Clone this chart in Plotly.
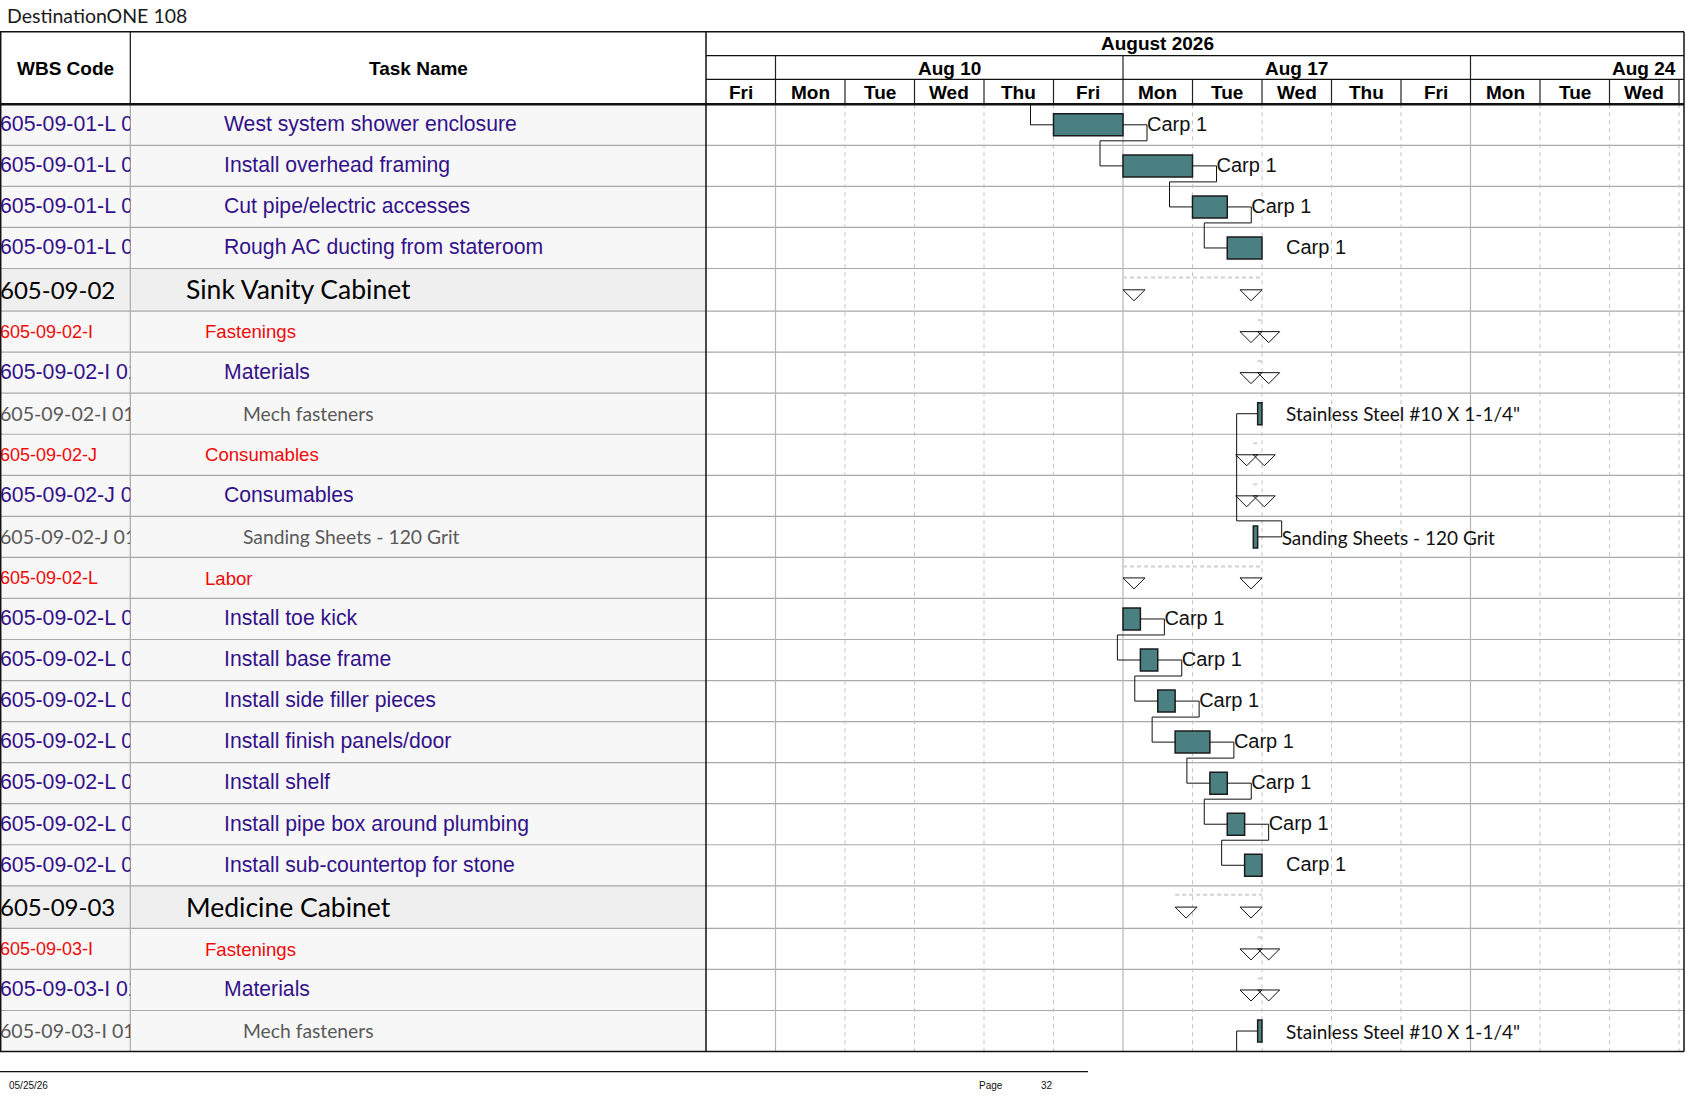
import numpy as np
import pandas as pd
import plotly.graph_objects as go

W, H = 1687, 1097

# ---------------------------------------------------------------- data
# timescale: working days counted from Fri 7 Aug 2026 (work day 08:00-16:00)
ORIGIN = "2026-08-07"
day_labels = ["Fri", "Mon", "Tue", "Wed", "Thu", "Fri", "Mon",
              "Tue", "Wed", "Thu", "Fri", "Mon", "Tue", "Wed"]
week_labels = ["Aug 10", "Aug 17", "Aug 24"]
week_first_day = [1, 6, 11]
month_label = "August 2026"

wbs_codes = [
    "605-09-01-L 05", "605-09-01-L 06", "605-09-01-L 07", "605-09-01-L 08",
    "605-09-02",
    "605-09-02-I", "605-09-02-I 01", "605-09-02-I 01-01",
    "605-09-02-J", "605-09-02-J 01", "605-09-02-J 01-01",
    "605-09-02-L", "605-09-02-L 01", "605-09-02-L 02", "605-09-02-L 03",
    "605-09-02-L 04", "605-09-02-L 05", "605-09-02-L 06", "605-09-02-L 07",
    "605-09-03",
    "605-09-03-I", "605-09-03-I 01", "605-09-03-I 01-01",
]
task_names = [
    "West system shower enclosure", "Install overhead framing",
    "Cut pipe/electric accesses", "Rough AC ducting from stateroom",
    "Sink Vanity Cabinet",
    "Fastenings", "Materials", "Mech fasteners",
    "Consumables", "Consumables", "Sanding Sheets - 120 Grit",
    "Labor", "Install toe kick", "Install base frame", "Install side filler pieces",
    "Install finish panels/door", "Install shelf", "Install pipe box around plumbing",
    "Install sub-countertop for stone",
    "Medicine Cabinet",
    "Fastenings", "Materials", "Mech fasteners",
]
row_levels = [
    "task", "task", "task", "task",
    "group",
    "cat", "task", "item",
    "cat", "task", "item",
    "cat", "task", "task", "task", "task", "task", "task", "task",
    "group",
    "cat", "task", "item",
]
gantt_kind = [
    "bar", "bar", "bar", "bar",
    "summary",
    "summary", "summary", "bar",
    "summary", "summary", "bar",
    "summary", "bar", "bar", "bar", "bar", "bar", "bar", "bar",
    "summary",
    "summary", "summary", "bar",
]
start_times = [
    "2026-08-14 08:00", "2026-08-17 08:00", "2026-08-18 08:00", "2026-08-18 12:00",
    "2026-08-17 08:00",
    "2026-08-18 15:30", "2026-08-18 15:30", "2026-08-18 15:30",
    "2026-08-18 15:00", "2026-08-18 15:00", "2026-08-18 15:00",
    "2026-08-17 08:00", "2026-08-17 08:00", "2026-08-17 10:00", "2026-08-17 12:00",
    "2026-08-17 14:00", "2026-08-18 10:00", "2026-08-18 12:00", "2026-08-18 14:00",
    "2026-08-17 14:00",
    "2026-08-18 15:30", "2026-08-18 15:30", "2026-08-18 15:30",
]
finish_times = [
    "2026-08-14 16:00", "2026-08-17 16:00", "2026-08-18 12:00", "2026-08-18 16:00",
    "2026-08-18 16:00",
    "2026-08-18 16:00", "2026-08-18 16:00", "2026-08-18 16:00",
    "2026-08-18 15:30", "2026-08-18 15:30", "2026-08-18 15:30",
    "2026-08-18 16:00", "2026-08-17 10:00", "2026-08-17 12:00", "2026-08-17 14:00",
    "2026-08-18 10:00", "2026-08-18 12:00", "2026-08-18 14:00", "2026-08-18 16:00",
    "2026-08-18 16:00",
    "2026-08-18 16:00", "2026-08-18 16:00", "2026-08-18 16:00",
]
resource_labels = [
    "Carp 1", "Carp 1", "Carp 1", "Carp 1",
    "",
    "", "", 'Stainless Steel #10 X 1-1/4"',
    "", "", "Sanding Sheets - 120 Grit",
    "", "Carp 1", "Carp 1", "Carp 1", "Carp 1", "Carp 1", "Carp 1", "Carp 1",
    "",
    "", "", 'Stainless Steel #10 X 1-1/4"',
]
# finish-to-start links (predecessor row, successor row)
links = [(0, 1), (1, 2), (2, 3), (10, 7),
         (12, 13), (13, 14), (14, 15), (15, 16), (16, 17), (17, 18)]
links_from_above = [0]
links_from_below = [22]

# ---------------------------------------------------------------- layout constants
DAY_PX = 69.5
GANTT_X0, GANTT_X1 = 706, 1684
WBS_X1 = 130.3
TOP_Y, MONTH_Y1, WEEK_Y1, HEADER_BOTTOM = 31.7, 55.7, 79.3, 104.3
ROW_H, GROUP_H = 41.05, 42.6
BAR_H = 22
TRI_W, TRI_H = 22, 11

TEAL = "#4a8081"
ARIAL = "Liberation Sans"
CALIBRI = "Lato"

# dy: small baseline nudge so the text sits like the reference
LEVEL_STYLE = {
    "group": dict(font=CALIBRI, size=26.5, wsize=24, color="#000000", indent=186,
                  bg="#efefef", dy=3),
    "cat": dict(font=ARIAL, size=18.6, wsize=18, color="#f00a0a", indent=205,
                bg="#f7f7f7", dy=2),
    "task": dict(font=ARIAL, size=21.2, wsize=21.3, color="#33118a", indent=224,
                 bg="#f7f7f7", dy=1),
    "item": dict(font=CALIBRI, size=19.3, wsize=19.6, color="#595959", indent=243,
                 bg="#f7f7f7", dy=2.5),
}


def px(v):
    return v / DAY_PX


def to_day(ts):
    t = pd.Timestamp(ts)
    return int(np.busday_count(ORIGIN, t.date().isoformat())) + (t.hour + t.minute / 60 - 8) / 8


start = np.array([to_day(t) for t in start_times])
finish = np.array([to_day(t) for t in finish_times])
heights = np.array([GROUP_H if lv == "group" else ROW_H for lv in row_levels])
tops = HEADER_BOTTOM + np.concatenate([[0], np.cumsum(heights)[:-1]])
bottoms = tops + heights
centers = (tops + bottoms) / 2
TABLE_BOTTOM = bottoms[-1]
X_MAX = px(GANTT_X1 - GANTT_X0)

fig = go.Figure()

# ---------------------------------------------------------------- gantt marks
bar_rows = [i for i, k in enumerate(gantt_kind) if k == "bar"]
fig.add_trace(go.Bar(
    orientation="h", y=centers[bar_rows], base=start[bar_rows],
    x=finish[bar_rows] - start[bar_rows], width=BAR_H,
    marker=dict(color=TEAL, line=dict(color="#1b1b1b", width=1.5)),
    xaxis="x", yaxis="y", hoverinfo="skip", showlegend=False,
))

sum_rows = [i for i, k in enumerate(gantt_kind) if k == "summary"]
dx, dy, tx, ty = [], [], [], []
for r in sum_rows:
    y = tops[r] + 9
    dx += [start[r], finish[r], None]
    dy += [y, y, None]
    c = centers[r]
    for x0 in (start[r], finish[r] - px(TRI_W)):
        tx += [x0, x0 + px(TRI_W), x0 + px(TRI_W / 2), x0, None]
        ty += [c, c, c + TRI_H, c, None]
fig.add_trace(go.Scatter(x=dx, y=dy, mode="lines", xaxis="x", yaxis="y",
                         line=dict(color="#d2d2d2", width=2, dash="4px,3px"),
                         hoverinfo="skip", showlegend=False))
fig.add_trace(go.Scatter(x=tx, y=ty, mode="lines", fill="toself", fillcolor="white",
                         xaxis="x", yaxis="y", line=dict(color="#111111", width=1),
                         hoverinfo="skip", showlegend=False))

lx, ly = [], []


def add_path(pts):
    for x, y in pts:
        lx.append(x)
        ly.append(y)
    lx.append(None)
    ly.append(None)


for p, s in links:
    out = finish[p] + px(24)
    if s > p:
        jog, back = centers[p] + 16, start[s] - px(23)
    else:
        jog, back = centers[p] - 16, start[s] - px(21)
    add_path([(finish[p], centers[p]), (out, centers[p]), (out, jog),
              (back, jog), (back, centers[s]), (start[s], centers[s])])
for r in links_from_above:
    back = start[r] - px(23)
    add_path([(back, HEADER_BOTTOM), (back, centers[r]), (start[r], centers[r])])
for r in links_from_below:
    back = start[r] - px(21)
    add_path([(back, TABLE_BOTTOM), (back, centers[r]), (start[r], centers[r])])
fig.add_trace(go.Scatter(x=lx, y=ly, mode="lines", xaxis="x", yaxis="y",
                         line=dict(color="#111111", width=1),
                         hoverinfo="skip", showlegend=False))

for fam, size, nudge, pick in ((ARIAL, 20, 1, lambda t: t.startswith("Carp")),
                               (CALIBRI, 19, 3, lambda t: t and not t.startswith("Carp"))):
    rows = [i for i in bar_rows if pick(resource_labels[i])]
    fig.add_trace(go.Scatter(
        x=finish[rows] + px(24), y=centers[rows] + nudge,
        text=[resource_labels[i] for i in rows],
        mode="text", textposition="middle right", xaxis="x", yaxis="y",
        textfont=dict(family=fam, size=size, color="#111111"),
        hoverinfo="skip", showlegend=False, cliponaxis=False,
    ))

# ---------------------------------------------------------------- table text
for lv, st in LEVEL_STYLE.items():
    rows = [i for i, l in enumerate(row_levels) if l == lv]
    fig.add_trace(go.Scatter(
        x=[0] * len(rows), y=centers[rows] + st["dy"], text=[wbs_codes[i] for i in rows],
        mode="text", textposition="middle right", xaxis="x3", yaxis="y",
        textfont=dict(family=st["font"], size=st["wsize"], color=st["color"]),
        hoverinfo="skip", showlegend=False, cliponaxis=True,
    ))
    fig.add_trace(go.Scatter(
        x=[st["indent"]] * len(rows), y=centers[rows] + st["dy"],
        text=[task_names[i] for i in rows],
        mode="text", textposition="middle right", xaxis="x2", yaxis="y",
        textfont=dict(family=st["font"], size=st["size"], color=st["color"]),
        hoverinfo="skip", showlegend=False, cliponaxis=False,
    ))

# ---------------------------------------------------------------- shapes
shapes = []


def P(x):
    return x / W


def line(x0, y0, x1, y1, color, width=1, dash="solid", xref="paper", layer="below"):
    if xref == "paper":
        x0, x1 = P(x0), P(x1)
    shapes.append(dict(type="line", xref=xref, yref="y", x0=x0, x1=x1, y0=y0, y1=y1,
                       line=dict(color=color, width=width, dash=dash), layer=layer))


for i, lv in enumerate(row_levels):
    shapes.append(dict(type="rect", xref="paper", yref="y", x0=0, x1=P(GANTT_X0),
                       y0=tops[i], y1=bottoms[i], fillcolor=LEVEL_STYLE[lv]["bg"],
                       line=dict(width=0), layer="below"))
for b in bottoms[:-1]:
    line(0, b, GANTT_X1, b, "#a9a9a9", 1.2)
line(WBS_X1, HEADER_BOTTOM, WBS_X1, TABLE_BOTTOM, "#a9a9a9", 1.2)

mondays = set(week_first_day)
for d in range(1, int(X_MAX) + 1):
    if d in mondays:
        line(d, HEADER_BOTTOM, d, TABLE_BOTTOM, "#b5b5b5", 1.2, xref="x")
    else:
        line(d, HEADER_BOTTOM, d, TABLE_BOTTOM, "#c2c2c2", 1, dash="4px,4px", xref="x")
    line(d, WEEK_Y1, d, HEADER_BOTTOM, "#222222", 1.2, xref="x", layer="above")
for d in week_first_day:
    line(d, MONTH_Y1, d, WEEK_Y1, "#222222", 1.2, xref="x", layer="above")

K = "#111111"
line(0, TOP_Y, GANTT_X1, TOP_Y, K, 1.5, layer="above")
line(0, TABLE_BOTTOM, GANTT_X1, TABLE_BOTTOM, K, 1.5, layer="above")
line(0, HEADER_BOTTOM, GANTT_X1, HEADER_BOTTOM, K, 2.5, layer="above")
line(GANTT_X0, MONTH_Y1, GANTT_X1, MONTH_Y1, K, 1.2, layer="above")
line(GANTT_X0, WEEK_Y1, GANTT_X1, WEEK_Y1, K, 1.2, layer="above")
line(0.7, TOP_Y, 0.7, TABLE_BOTTOM, K, 1.5, layer="above")
line(WBS_X1, TOP_Y, WBS_X1, HEADER_BOTTOM, K, 1.2, layer="above")
line(GANTT_X0, TOP_Y, GANTT_X0, TABLE_BOTTOM, K, 1.5, layer="above")
line(GANTT_X1, TOP_Y, GANTT_X1, TABLE_BOTTOM, K, 1.5, layer="above")
line(0, 1071.7, 1088, 1071.7, K, 1.2, layer="above")

# ---------------------------------------------------------------- annotations
ann = []
hdr_font = dict(family=ARIAL, size=19, color="#000000")
ann.append(dict(x=P(WBS_X1 / 2), y=(TOP_Y + HEADER_BOTTOM) / 2, xref="paper", yref="y",
                xanchor="center", text="<b>WBS Code</b>", font=hdr_font))
ann.append(dict(x=P((WBS_X1 + GANTT_X0) / 2), y=(TOP_Y + HEADER_BOTTOM) / 2, xref="paper",
                yref="y", xanchor="center", text="<b>Task Name</b>", font=hdr_font))
ann.append(dict(x=6.5, y=(TOP_Y + MONTH_Y1) / 2, xref="x", yref="y", xanchor="center",
                text=f"<b>{month_label}</b>", font=hdr_font))
for lab, d0 in zip(week_labels, week_first_day):
    d1 = d0 + 5
    if d1 <= X_MAX:
        ann.append(dict(x=(d0 + d1) / 2, y=(MONTH_Y1 + WEEK_Y1) / 2 + 1, xref="x", yref="y",
                        xanchor="center", text=f"<b>{lab}</b>", font=hdr_font))
    else:
        ann.append(dict(x=X_MAX - px(6), y=(MONTH_Y1 + WEEK_Y1) / 2 + 1, xref="x", yref="y",
                        xanchor="right", text=f"<b>{lab}</b>", font=hdr_font))
for i, lab in enumerate(day_labels):
    ann.append(dict(x=i + 0.5, y=(WEEK_Y1 + HEADER_BOTTOM) / 2 + 1, xref="x", yref="y",
                    xanchor="center", text=f"<b>{lab}</b>", font=hdr_font))

ann.append(dict(x=P(5), y=15.5, xref="paper", yref="y", xanchor="left",
                text="DestinationONE 108", font=dict(family=CALIBRI, size=19.5, color="#1a1a1a")))
foot = dict(family=ARIAL, size=10, color="#111111")
ann.append(dict(x=P(7), y=1085, xref="paper", yref="y", xanchor="left", text="05/25/26", font=foot))
ann.append(dict(x=P(977), y=1085, xref="paper", yref="y", xanchor="left", text="Page", font=foot))
ann.append(dict(x=P(1039), y=1085, xref="paper", yref="y", xanchor="left", text="32", font=foot))
for a in ann:
    a["showarrow"] = False

hidden = dict(visible=False, showgrid=False, zeroline=False, fixedrange=True)
fig.update_layout(
    width=W, height=H, margin=dict(l=0, r=0, t=0, b=0),
    paper_bgcolor="white", plot_bgcolor="rgba(0,0,0,0)",
    showlegend=False, barmode="overlay",
    xaxis=dict(domain=[P(GANTT_X0), P(GANTT_X1)], range=[0, X_MAX], anchor="y", **hidden),
    xaxis2=dict(domain=[0, 1], range=[0, W], anchor="y", **hidden),
    xaxis3=dict(domain=[0, P(WBS_X1)], range=[0, WBS_X1], anchor="y", **hidden),
    yaxis=dict(domain=[0, 1], range=[H, 0], anchor="x", **hidden),
    shapes=shapes, annotations=ann,
)

fig.write_html("out.html", config={"displayModeBar": False},
               post_script="document.body.style.margin='0';")
